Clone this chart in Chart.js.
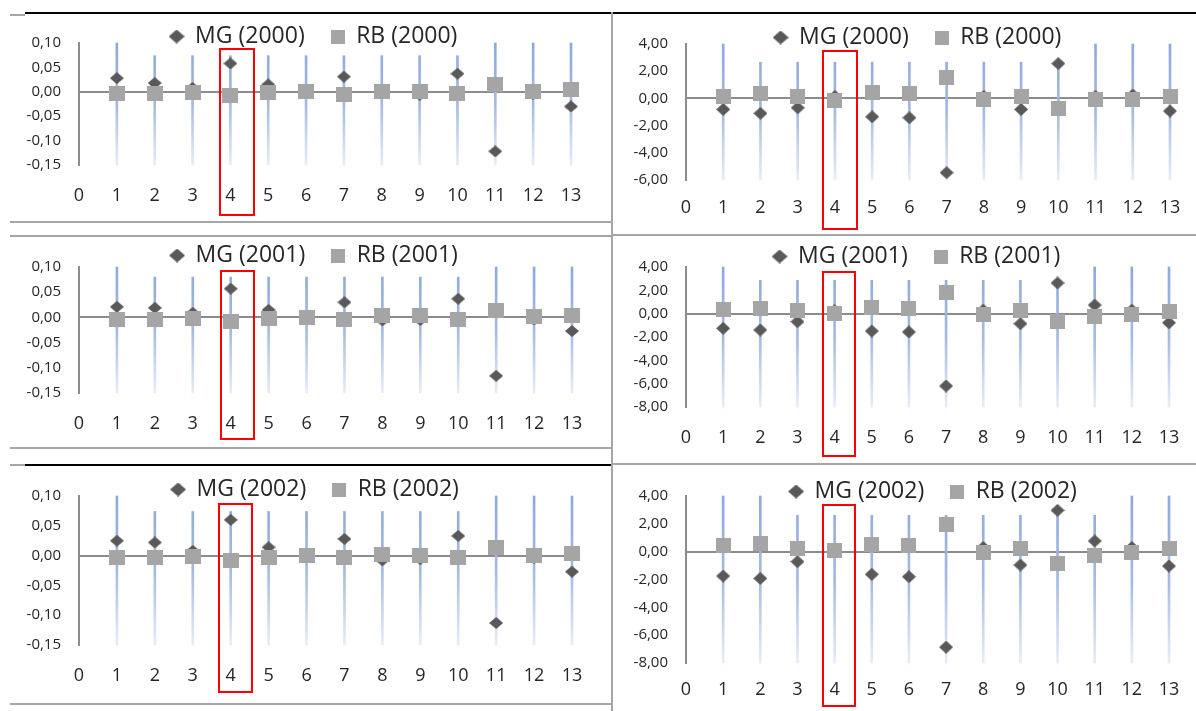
<!DOCTYPE html>
<html>
<head>
<meta charset="utf-8">
<script src="https://cdn.jsdelivr.net/npm/chart.js@4.4.1/dist/chart.umd.min.js"></script>
<style>
  html, body { margin: 0; padding: 0; background: #fff; overflow: hidden; width: 1196px; height: 711px; }
  .panel { position: absolute; }
  .rule { position: absolute; background: #a6a6a6; height: 2px; }
  .rule.black { background: #000; }
  .vrule { position: absolute; background: #a6a6a6; width: 2px; }
  .mark { position: absolute; border: 2px solid #ff0000; box-sizing: border-box; }
</style>
</head>
<body>
<div class="rule" style="left:10px;top:14px;width:15px"></div>
<div class="rule black" style="left:25px;top:12px;width:586px"></div>
<div class="rule black" style="left:612px;top:12px;width:584px"></div>
<div class="rule" style="left:10px;top:221px;width:601px"></div>
<div class="rule" style="left:10px;top:235px;width:601px"></div>
<div class="rule" style="left:612px;top:234px;width:584px"></div>
<div class="rule" style="left:10px;top:447px;width:601px"></div>
<div class="rule" style="left:10px;top:464px;width:15px"></div>
<div class="rule black" style="left:25px;top:464px;width:586px"></div>
<div class="rule" style="left:612px;top:463px;width:584px"></div>
<div class="rule" style="left:10px;top:703px;width:601px"></div>
<div class="vrule" style="left:611px;top:12px;height:699px"></div>

<script>
// x positions (0..13 axis, markers at 1..13)
const xs = [1, 2, 3, 4, 5, 6, 7, 8, 9, 10, 11, 12, 13];

// left column (small scale)
const leftMG2000 = [0.028, 0.018, 0.008, 0.058, 0.015, 0.002, 0.031, -0.003, -0.006, 0.037, -0.122, -0.004, -0.030];
const leftRB2000 = [-0.003, -0.003, -0.001, -0.008, -0.002, 0.000, -0.005, 0.000, 0.001, -0.004, 0.014, 0.001, 0.004];
const leftTop2000 = [0.10, 0.074, 0.074, 0.074, 0.074, 0.074, 0.074, 0.074, 0.074, 0.074, 0.10, 0.10, 0.10];
const leftMG2001 = [0.021, 0.019, 0.009, 0.057, 0.015, 0.001, 0.030, -0.006, -0.005, 0.037, -0.116, -0.004, -0.027];
const leftRB2001 = [-0.005, -0.005, -0.002, -0.008, -0.003, 0.000, -0.005, 0.003, 0.003, -0.005, 0.013, 0.001, 0.004];
const leftTop2001 = [0.10, 0.08, 0.08, 0.08, 0.08, 0.08, 0.08, 0.08, 0.08, 0.08, 0.10, 0.10, 0.10];
const leftMG2002 = [0.025, 0.022, 0.008, 0.060, 0.014, 0.002, 0.028, -0.008, -0.006, 0.033, -0.113, -0.004, -0.027];
const leftRB2002 = [-0.004, -0.004, -0.001, -0.008, -0.003, 0.000, -0.004, 0.002, 0.001, -0.004, 0.014, 0.001, 0.004];
const leftTop2002 = [0.10, 0.074, 0.074, 0.074, 0.074, 0.074, 0.074, 0.074, 0.074, 0.074, 0.10, 0.10, 0.10];
const leftLow = [-0.15, -0.15, -0.15, -0.15, -0.15, -0.15, -0.15, -0.15, -0.15, -0.15, -0.15, -0.15, -0.15];

// right column (large scale)
const rightMG2000 = [-0.81, -1.1, -0.69, 0.15, -1.35, -1.42, -5.46, 0.15, -0.81, 2.56, 0.15, 0.25, -0.93];
const rightRB2000 = [0.12, 0.34, 0.12, -0.12, 0.41, 0.34, 1.56, -0.07, 0.12, -0.73, -0.07, -0.1, 0.17];
const rightTop2000 = [4, 2.66, 2.66, 2.66, 2.66, 2.66, 2.66, 2.66, 2.66, 2.66, 4, 4, 4];
const rightLow2000 = [-6, -6, -6, -6, -6, -6, -6, -6, -6, -6, -6, -6, -6];
const rightMG2001 = [-1.26, -1.4, -0.69, 0.25, -1.49, -1.57, -6.2, 0.3, -0.86, 2.63, 0.74, 0.3, -0.78];
const rightRB2001 = [0.37, 0.46, 0.23, 0.0, 0.51, 0.43, 1.8, -0.06, 0.29, -0.71, -0.26, -0.09, 0.17];
const rightTop2001 = [4, 2.86, 2.86, 2.86, 2.86, 2.86, 2.86, 2.86, 2.86, 2.86, 4, 4, 4];
const rightMG2002 = [-1.75, -1.92, -0.72, 0.1, -1.63, -1.8, -6.86, 0.3, -0.96, 2.97, 0.77, 0.3, -1.03];
const rightRB2002 = [0.41, 0.6, 0.22, 0.05, 0.48, 0.41, 1.97, -0.07, 0.24, -0.84, -0.26, -0.07, 0.22];
const rightTop2002 = [4, 4, 2.61, 2.61, 2.61, 2.61, 2.61, 2.61, 2.61, 2.61, 2.61, 4, 4];
const rightLow = [-8, -8, -8, -8, -8, -8, -8, -8, -8, -8, -8, -8, -8];

const FONT = "'Open Sans', sans-serif";
const MG_COLOR = '#595959';
const RB_COLOR = '#a5a5a5';
const TEXT = '#262626';
const AXIS = '#8c8c8c';

// small canvases used as marker shapes
function diamondIcon(w, h, color) {
    const c = document.createElement('canvas');
    c.width = w; c.height = h;
    const g = c.getContext('2d');
    g.fillStyle = color;
    g.beginPath();
    g.moveTo(w / 2, 0); g.lineTo(w, h / 2); g.lineTo(w / 2, h); g.lineTo(0, h / 2);
    g.closePath();
    g.fill();
    return c;
}
function squareIcon(w, h, color) {
    const c = document.createElement('canvas');
    c.width = w; c.height = h;
    const g = c.getContext('2d');
    g.fillStyle = color;
    g.fillRect(0, 0, w, h);
    return c;
}

const mgLegendIcon = diamondIcon(16, 14, MG_COLOR);
const rbLegendIcon = squareIcon(14, 14, RB_COLOR);

// fading blue range lines
function barFill(ctx) {
    const area = ctx.chart.chartArea;
    if (!area) return '#8faadc';
    const g = ctx.chart.ctx.createLinearGradient(0, area.top, 0, area.bottom);
    g.addColorStop(0, '#8eaadc');
    g.addColorStop(0.5, '#a3bae4');
    g.addColorStop(1, '#e7edf8');
    return g;
}

// the legend overlaps the plot a little, so let it draw past its own box
const legendRoom = {
    id: 'legendRoom',
    afterLayout(chart) {
        const l = chart.legend;
        if (l) { l.bottom += 24; l.height += 24; }
    }
};

const panels = [
    { year: '2000', mg: leftMG2000, rb: leftRB2000, hi: leftTop2000, lo: leftLow, yMin: -0.15, yMax: 0.10, step: 0.05,
      box: [0, -1, 627, 211], axisW: 79, padRight: 56, legendH: 44, labelPad: 20, mark: [219, 48, 36, 168], big: true },
    { year: '2001', mg: leftMG2001, rb: leftRB2001, hi: leftTop2001, lo: leftLow, yMin: -0.15, yMax: 0.10, step: 0.05,
      box: [0, 218, 628, 220], axisW: 79, padRight: 56, legendH: 49, labelPad: 20, mark: [220, 270, 35, 170], big: true },
    { year: '2002', mg: leftMG2002, rb: leftRB2002, hi: leftTop2002, lo: leftLow, yMin: -0.15, yMax: 0.10, step: 0.05,
      box: [0, 452, 630, 238], axisW: 79, padRight: 58, legendH: 44, labelPad: 20, mark: [218, 503, 35, 190], big: true },
    { year: '2000', mg: rightMG2000, rb: rightRB2000, hi: rightTop2000, lo: rightLow2000, yMin: -6, yMax: 4, step: 2,
      box: [612, 0, 611, 225], axisW: 74, padRight: 53, legendH: 44, labelPad: 17, mark: [822, 50, 36, 180], big: false },
    { year: '2001', mg: rightMG2001, rb: rightRB2001, hi: rightTop2001, lo: rightLow, yMin: -8, yMax: 4, step: 2,
      box: [612, 219, 609, 233], axisW: 74, padRight: 52, legendH: 48, labelPad: 20, mark: [822, 271, 34, 186], big: false },
    { year: '2002', mg: rightMG2002, rb: rightRB2002, hi: rightTop2002, lo: rightLow, yMin: -8, yMax: 4, step: 2,
      box: [612, 454, 642, 254], axisW: 74, padRight: 85, legendH: 42, labelPad: 16, mark: [822, 504, 34, 203], big: false }
];

function makePanel(p) {
    const wrap = document.createElement('div');
    wrap.className = 'panel';
    wrap.style.left = p.box[0] + 'px';
    wrap.style.top = p.box[1] + 'px';
    wrap.style.width = p.box[2] + 'px';
    wrap.style.height = p.box[3] + 'px';
    const cv = document.createElement('canvas');
    wrap.appendChild(cv);
    document.body.appendChild(wrap);

    const mgIcon = p.big ? diamondIcon(14, 12, MG_COLOR) : diamondIcon(14, 13, MG_COLOR);
    const rbIcon = p.big ? squareIcon(16, 15, RB_COLOR) : squareIcon(15, 15, RB_COLOR);

    new Chart(cv, {
        type: 'scatter',
        plugins: [legendRoom],
        data: {
            datasets: [
                {
                    label: 'MG (' + p.year + ')',
                    data: xs.map((x, i) => ({ x: x, y: p.mg[i] })),
                    pointStyle: mgIcon,
                    pointRadius: 7,
                    backgroundColor: MG_COLOR,
                    borderWidth: 0,
                    clip: false,
                    order: 1,
                    icon: mgLegendIcon
                },
                {
                    label: 'RB (' + p.year + ')',
                    data: xs.map((x, i) => ({ x: x, y: p.rb[i] })),
                    pointStyle: rbIcon,
                    pointRadius: 8,
                    backgroundColor: RB_COLOR,
                    borderWidth: 0,
                    clip: false,
                    order: 0,
                    icon: rbLegendIcon
                },
                {
                    type: 'bar',
                    label: 'range',
                    data: xs.map((x, i) => ({ x: x, y: [p.lo[i], p.hi[i]] })),
                    barThickness: 2,
                    backgroundColor: barFill,
                    borderWidth: 0,
                    clip: false,
                    order: 2
                }
            ]
        },
        options: {
            animation: false,
            responsive: true,
            maintainAspectRatio: false,
            layout: { padding: 0 },
            plugins: {
                tooltip: { enabled: false },
                legend: {
                    position: 'top',
                    maxHeight: p.legendH,
                    labels: {
                        usePointStyle: true,
                        boxWidth: 14,
                        boxHeight: 14,
                        padding: 26,
                        color: TEXT,
                        font: { family: FONT, size: 23 },
                        generateLabels: chart => chart.data.datasets
                            .map((d, i) => ({ d: d, i: i }))
                            .filter(o => o.d.icon)
                            .map(o => ({
                                text: o.d.label,
                                pointStyle: o.d.icon,
                                fillStyle: o.d.backgroundColor,
                                strokeStyle: o.d.backgroundColor,
                                lineWidth: 0,
                                hidden: false,
                                fontColor: TEXT,
                                datasetIndex: o.i
                            }))
                    }
                }
            },
            scales: {
                x: {
                    type: 'linear',
                    min: 0,
                    max: 13,
                    offset: false,
                    border: { display: false },
                    grid: { display: false, drawTicks: false },
                    ticks: { stepSize: 1, padding: p.labelPad, color: TEXT, font: { family: FONT, size: 18 }, callback: v => v },
                    afterFit: s => { s.height = 45; }
                },
                y: {
                    type: 'linear',
                    min: p.yMin,
                    max: p.yMax,
                    border: { display: true, color: AXIS, width: 2 },
                    grid: {
                        drawTicks: false,
                        lineWidth: 2,
                        color: c => (c.tick && Math.abs(c.tick.value) < 1e-9) ? AXIS : 'rgba(0,0,0,0)'
                    },
                    ticks: {
                        stepSize: p.step,
                        padding: 18,
                        color: TEXT,
                        font: { family: FONT, size: 15 },
                        callback: v => v.toFixed(2).replace('.', ',')
                    },
                    afterFit: s => { s.width = p.axisW; }
                },
                pad: {
                    type: 'linear',
                    position: 'right',
                    display: true,
                    grid: { display: false, drawTicks: false },
                    border: { display: false },
                    ticks: { display: false },
                    afterFit: s => { s.width = p.padRight; }
                }
            }
        }
    });

    const mark = document.createElement('div');
    mark.className = 'mark';
    mark.style.left = p.mark[0] + 'px';
    mark.style.top = p.mark[1] + 'px';
    mark.style.width = p.mark[2] + 'px';
    mark.style.height = p.mark[3] + 'px';
    mark.style.zIndex = 5;
    document.body.appendChild(mark);
}

panels.forEach(makePanel);
</script>
</body>
</html>
